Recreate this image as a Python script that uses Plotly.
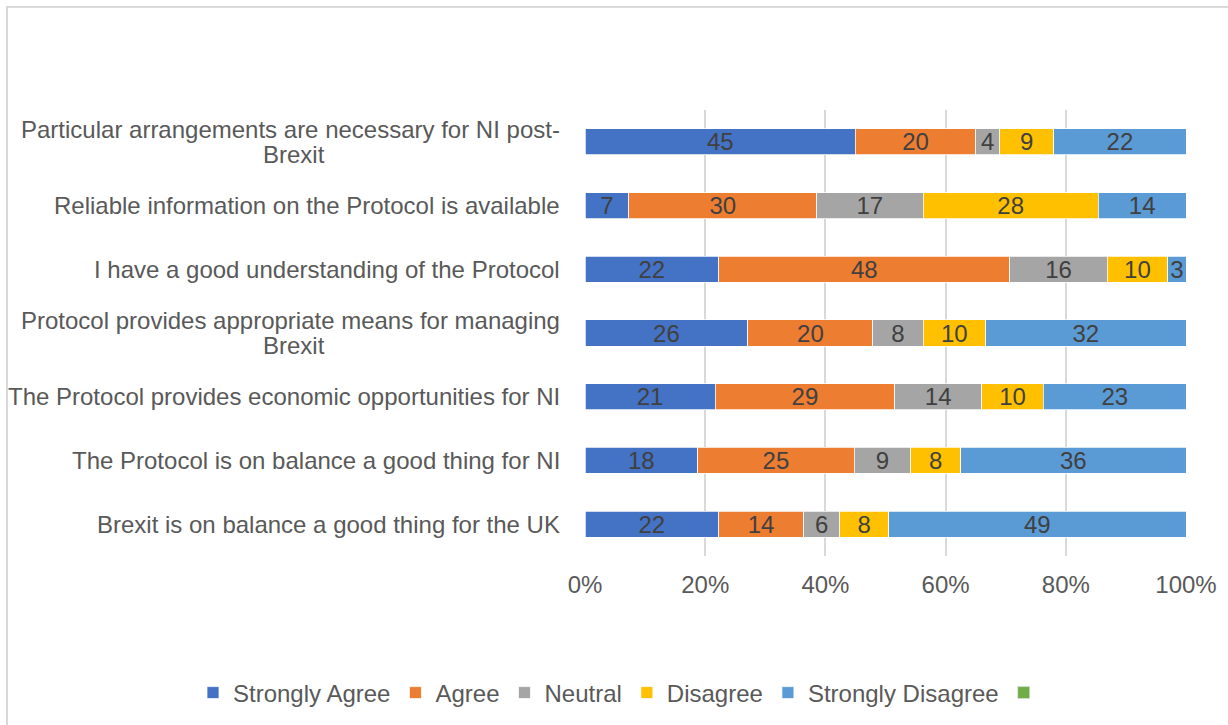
import plotly.graph_objects as go

# Survey statements, listed top to bottom (two-line labels split into lines)
statements = [
    ["Particular arrangements are necessary for NI post-", "Brexit"],
    ["Reliable information on the Protocol is available"],
    ["I have a good understanding of the Protocol"],
    ["Protocol provides appropriate means for managing", "Brexit"],
    ["The Protocol provides economic opportunities for NI"],
    ["The Protocol is on balance a good thing for NI"],
    ["Brexit is on balance a good thing for the UK"],
]

# Responses per statement (same order as statements)
strongly_agree = [45, 7, 22, 26, 21, 18, 22]
agree = [20, 30, 48, 20, 29, 25, 14]
neutral = [4, 17, 16, 8, 14, 9, 6]
disagree = [9, 28, 10, 10, 10, 8, 8]
strongly_disagree = [22, 14, 3, 32, 23, 36, 49]

series_names = ["Strongly Agree", "Agree", "Neutral", "Disagree", "Strongly Disagree"]
series_values = [strongly_agree, agree, neutral, disagree, strongly_disagree]
series_colors = ["#4472C4", "#ED7D31", "#A5A5A5", "#FFC000", "#5B9BD5"]

x_ticks = [0, 20, 40, 60, 80, 100]
x_tick_text = ["0%", "20%", "40%", "60%", "80%", "100%"]

FONT = "Liberation Sans, Arial, sans-serif"
FS = 24
row_ids = list(range(len(statements)))

fig = go.Figure()
for name, vals, color in zip(series_names, series_values, series_colors):
    fig.add_trace(go.Bar(
        y=row_ids, x=vals, name=name, orientation="h",
        marker=dict(color=color, line=dict(color="white", width=0.75)),
        text=vals, texttemplate="%{text}", textposition="inside",
        insidetextanchor="middle", textangle=0,
        textfont=dict(family=FONT, size=FS, color="#404040"),
        hoverinfo="skip",
    ))

# unnamed sixth series (shown only in the legend)
fig.add_trace(go.Bar(y=[None], x=[None], name=" ", orientation="h",
                     marker=dict(color="#70AD47"), hoverinfo="skip"))

W, H = 1228, 725
L, R, T, B = 585, 42, 110, 169
pw, ph = W - L - R, H - T - B


def px_x(p):
    return (p - L) / pw


def px_y(p):
    return (H - B - p) / ph


LABEL_RIGHT = px_x(562)
LABEL_CENTRE = px_x(294)
label_font = dict(family=FONT, size=FS, color="#595959")

# Category labels: single lines right-aligned, second lines centred under the first
for i, lines in enumerate(statements):
    if len(lines) == 1:
        fig.add_annotation(x=LABEL_RIGHT, xref="paper", y=i, yref="y",
                           text=lines[0], showarrow=False, xanchor="right",
                           yanchor="middle", font=label_font)
    else:
        fig.add_annotation(x=LABEL_RIGHT, xref="paper", y=i, yref="y",
                           text=lines[0], showarrow=False, xanchor="right",
                           yanchor="middle", yshift=12.5, font=label_font)
        fig.add_annotation(x=LABEL_CENTRE, xref="paper", y=i, yref="y",
                           text=lines[1], showarrow=False, xanchor="center",
                           yanchor="middle", yshift=-12.5, font=label_font)

# outer chart border
fig.add_shape(type="rect", xref="paper", yref="paper",
              x0=px_x(7), x1=px_x(W + 20), y0=px_y(7), y1=px_y(H + 20),
              line=dict(color="#D9D9D9", width=2), fillcolor="rgba(0,0,0,0)",
              layer="below")

fig.update_layout(
    barmode="stack", barnorm="percent", bargap=0.59,
    width=W, height=H,
    margin=dict(l=L, r=R, t=T, b=B, pad=0, autoexpand=False),
    paper_bgcolor="white", plot_bgcolor="white",
    font=dict(family=FONT, size=FS, color="#595959"),
    uniformtext=dict(minsize=FS, mode="show"),
    showlegend=True,
    legend=dict(orientation="h", xref="paper", x=px_x(193), xanchor="left",
                yref="paper", y=px_y(693), yanchor="middle",
                itemwidth=30, traceorder="normal", bgcolor="rgba(0,0,0,0)",
                font=dict(family=FONT, size=FS, color="#595959"),
                itemclick=False, itemdoubleclick=False),
    xaxis=dict(range=[0, 100], tickvals=x_ticks, ticktext=x_tick_text,
               showgrid=True, gridcolor="#D9D9D9", gridwidth=1.5,
               zeroline=False, showline=False, ticks="",
               ticklabelstandoff=12,
               tickfont=dict(family=FONT, size=FS, color="#595959")),
    yaxis=dict(range=[len(statements) - 0.5, -0.5], showticklabels=False,
               showgrid=False, zeroline=False, showline=False, ticks=""),
)

fig.write_html("out.html")
